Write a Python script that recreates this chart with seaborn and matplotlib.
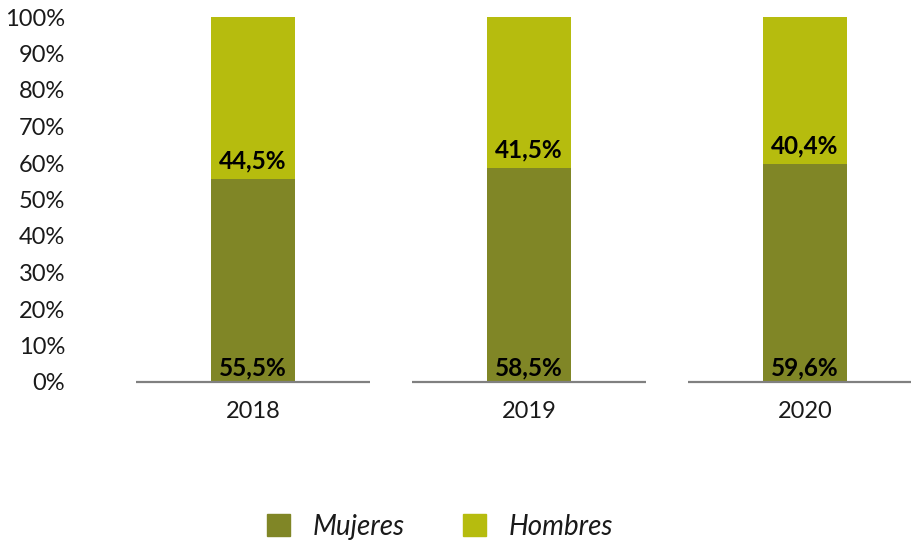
import numpy as np
import pandas as pd
import matplotlib
matplotlib.use("Agg")
import matplotlib.pyplot as plt
from matplotlib.patches import Patch
import seaborn as sns

years = ["2018", "2019", "2020"]
mujeres = [55.5, 58.5, 59.6]
hombres = [44.5, 41.5, 40.4]
yticks = [0, 10, 20, 30, 40, 50, 60, 70, 80, 90, 100]

col_m = "#808626"
col_h = "#b6bc0e"

sns.set_style("white")
plt.rcParams["font.family"] = ["Lato", "DejaVu Sans"]

df = pd.DataFrame({"year": years, "mujeres": mujeres, "hombres": hombres})
df["total"] = df["mujeres"] + df["hombres"]

fig = plt.figure(figsize=(9.11, 5.43), dpi=100)
ax = fig.add_axes([115 / 911, 161 / 543, 796 / 911, 365 / 543])

# total first (Hombres colour), then Mujeres on top of it
sns.barplot(data=df, x="year", y="total", order=years, color=col_h,
            width=0.304, saturation=1, linewidth=0, edgecolor="none", ax=ax)
sns.barplot(data=df, x="year", y="mujeres", order=years, color=col_m,
            width=0.304, saturation=1, linewidth=0, edgecolor="none", ax=ax)

ax.set_xlim(-0.5, 2.385)
ax.set_ylim(0, 100)
for b in ax.patches:
    b.set_clip_on(False)

# grey baseline pieces under each category
for i in range(len(years)):
    ax.hlines(0, i - 0.424, i + 0.424, color="#808080", lw=1.6,
              clip_on=False, zorder=3)

for i, (m, h) in enumerate(zip(mujeres, hombres)):
    ax.annotate(f"{m:.1f}%".replace(".", ","), (i, 0), xytext=(0, 2),
                textcoords="offset points", ha="center", va="bottom",
                fontsize=17.5, fontweight="bold", color="black")
    ax.annotate(f"{h:.1f}%".replace(".", ","), (i, m), xytext=(0, 5),
                textcoords="offset points", ha="center", va="bottom",
                fontsize=17.5, fontweight="bold", color="black")

ax.set_yticks(yticks)
ax.set_yticklabels([f"{v}%" for v in yticks])
ax.tick_params(axis="y", length=0, pad=36, labelsize=17, labelcolor="#1a1a1a")
ax.tick_params(axis="x", length=0, pad=14, labelsize=17, labelcolor="#1a1a1a")
ax.set_xlabel("")
ax.set_ylabel("")
sns.despine(ax=ax, left=True, bottom=True)

handles = [Patch(color=col_m, label="Mujeres"), Patch(color=col_h, label="Hombres")]
leg = fig.legend(handles=handles, loc="center", bbox_to_anchor=(440 / 911, 1 - 527 / 543),
                 ncol=2, frameon=False, handlelength=0.83, handleheight=0.83,
                 handletextpad=0.8, columnspacing=2.1,
                 prop={"size": 20, "style": "italic"})
for t in leg.get_texts():
    t.set_color("#1a1a1a")

fig.savefig("out.png", dpi=100)
